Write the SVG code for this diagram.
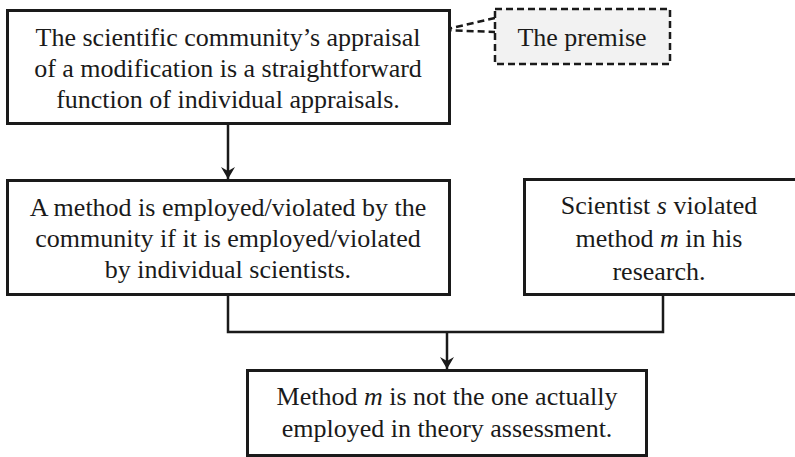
<svg xmlns="http://www.w3.org/2000/svg" width="795" height="457" viewBox="0 0 795 457">
  <style>
    .box { fill: #ffffff; stroke: #1a1a1a; stroke-width: 3; }
    .note { fill: #f2f2f2; stroke: #1a1a1a; stroke-width: 2.5; stroke-dasharray: 7 4; }
    .line { fill: none; stroke: #1a1a1a; stroke-width: 2.5; }
    .dash { fill: none; stroke: #1a1a1a; stroke-width: 2.5; stroke-dasharray: 7 4; }
    .label { font-size: 26px; fill: #1a1a1a; text-anchor: middle; }
    .it { font-style: italic; }
  </style>
  <defs>
    <marker id="arrow" viewBox="0 0 12 14" refX="12" refY="7" markerWidth="12" markerHeight="14" markerUnits="userSpaceOnUse" orient="auto">
      <path d="M0,0 L12,7 L0,14 L4,7 Z" fill="#1a1a1a"/>
    </marker>
  </defs>

  <rect width="795" height="457" fill="#ffffff"/>

  <g id="connectors">
    <line class="line" x1="228" y1="124" x2="228" y2="179" marker-end="url(#arrow)"/>
    <polyline class="line" points="228,295 228,332 663,332 663,295"/>
    <line class="line" x1="447" y1="332" x2="447" y2="369" marker-end="url(#arrow)"/>
  </g>

  <g id="premise-callout">
    <polyline class="dash" points="495,18 443,30 495,32"/>
  </g>

  <g font-family="'Liberation Serif', Tinos, 'Times New Roman', 'DejaVu Serif', serif">
    <g id="node-community-appraisal">
      <rect class="box" x="7.5" y="10.5" width="442" height="113"/>
      <text class="label" x="228" y="46">The scientific community’s appraisal</text>
      <text class="label" x="228" y="77">of a modification is a straightforward</text>
      <text class="label" x="228" y="108">function of individual appraisals.</text>
    </g>

    <g id="node-premise">
      <rect class="note" x="495" y="9" width="175" height="55"/>
      <text class="label" x="582" y="46">The premise</text>
    </g>

    <g id="node-method-employed">
      <rect class="box" x="7.5" y="180.5" width="442" height="114"/>
      <text class="label" x="228" y="216">A method is employed/violated by the</text>
      <text class="label" x="228" y="247">community if it is employed/violated</text>
      <text class="label" x="228" y="278">by individual scientists.</text>
    </g>

    <g id="node-scientist-violated">
      <rect class="box" x="524.5" y="179.5" width="272" height="115"/>
      <text class="label" x="659" y="214">Scientist <tspan class="it">s</tspan> violated</text>
      <text class="label" x="659" y="247">method <tspan class="it">m</tspan> in his</text>
      <text class="label" x="659" y="280">research.</text>
    </g>

    <g id="node-conclusion">
      <rect class="box" x="247.5" y="370.5" width="399" height="85"/>
      <text class="label" x="447" y="405">Method <tspan class="it">m</tspan> is not the one actually</text>
      <text class="label" x="447" y="437">employed in theory assessment.</text>
    </g>
  </g>
</svg>
